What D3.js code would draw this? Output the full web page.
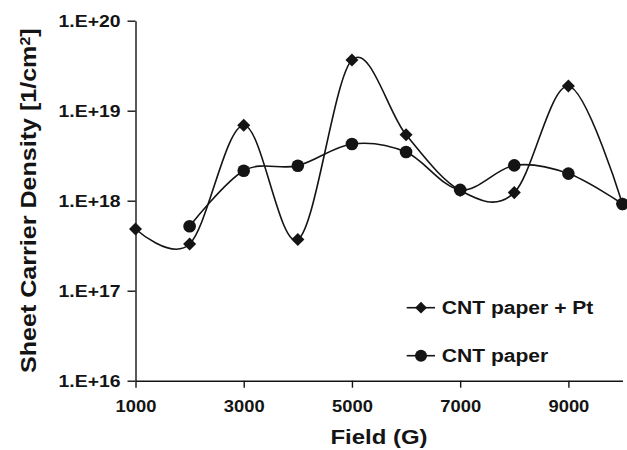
<!DOCTYPE html>
<html lang="en">
<head>
  <meta charset="UTF-8" />
  <title>Sheet Carrier Density vs Field</title>
  <script src="https://d3js.org/d3.v7.min.js"></script>
  <style>
    body { margin: 0; background: #fff; }
    svg { display: block; font-family: "Liberation Sans", Arial, sans-serif; font-weight: bold; }
  </style>
</head>
<body>
  <svg width="627" height="450"></svg>
  <script>
    // values
    const fields = [1000, 2000, 3000, 4000, 5000, 6000, 7000, 8000, 9000, 10000];
    const ptDensity = [4.85e17, 3.3e17, 6.9e18, 3.7e17, 3.66e19, 5.4e18, 1.3e18, 1.23e18, 1.88e19, 9.2e17];
    const paperFields = [2000, 3000, 4000, 5000, 6000, 7000, 8000, 9000, 10000];
    const paperDensity = [5.2e17, 2.15e18, 2.45e18, 4.27e18, 3.47e18, 1.32e18, 2.47e18, 2.0e18, 9.2e17];
    const xTicks = [1000, 3000, 5000, 7000, 9000];
    const yTicks = [1e16, 1e17, 1e18, 1e19, 1e20];
    const seriesNames = ["CNT paper + Pt", "CNT paper"];

    const svg = d3.select("svg"), width = +svg.attr("width"), height = +svg.attr("height");
    const margin = { top: 20.7, right: 4.5, bottom: 69.3, left: 135.5 };
    const ink = "#141414";
    const stretch = 1.14; // the original lettering is wider than Arial

    const x = d3.scaleLinear().domain([1000, 10000]).range([margin.left, width - margin.right]);
    const y = d3.scaleLog().domain([1e16, 1e20]).range([height - margin.bottom, margin.top]);

    // axes
    const xAxis = svg.append("g")
      .attr("transform", `translate(0,${height - margin.bottom})`)
      .call(d3.axisBottom(x).tickValues(xTicks).tickFormat(d3.format("d"))
        .tickSize(7).tickSizeOuter(0).tickPadding(12));
    const yAxis = svg.append("g")
      .attr("transform", `translate(${margin.left},0)`)
      .call(d3.axisLeft(y).tickValues(yTicks)
        .tickFormat(d => `1.E+${Math.round(Math.log10(d))}`)
        .tickSize(8).tickSizeOuter(0).tickPadding(7));

    [xAxis, yAxis].forEach(g => {
      g.select(".domain").attr("stroke", ink).attr("stroke-width", 1.4);
      g.selectAll(".tick line").attr("stroke", ink).attr("stroke-width", 1.4);
      g.selectAll(".tick text")
        .attr("fill", ink)
        .style("font-size", "17px")
        .style("font-family", "inherit")
        .style("font-weight", "bold");
    });
    xAxis.selectAll(".tick text").attr("transform", `scale(${1.08},1)`)
      .attr("x", 0);
    yAxis.selectAll(".tick text").attr("transform", `scale(${stretch},1)`)
      .attr("x", -15 / stretch).attr("dy", "0.36em");

    // axis titles
    svg.append("text")
      .attr("transform", `translate(${(margin.left + width - margin.right) / 2},444) scale(${stretch},1)`)
      .attr("text-anchor", "middle")
      .attr("fill", ink)
      .style("font-size", "21px")
      .text("Field (G)");

    const yTitle = svg.append("text")
      .attr("transform", `translate(36,${(margin.top + height - margin.bottom) / 2}) rotate(-90) scale(${stretch},1)`)
      .attr("text-anchor", "middle")
      .attr("fill", ink)
      .style("font-size", "22px");
    yTitle.append("tspan").text("Sheet Carrier Density [1/cm");
    yTitle.append("tspan").attr("dy", "-0.45em").style("font-size", "14px").text("2");
    yTitle.append("tspan").attr("dy", "0.3em").text("]");

    // smoothed lines, like the spreadsheet's "smoothed line" option
    const line = d3.line().curve(d3.curveCardinal.tension(0));
    const ptPoints = fields.map((f, i) => [x(f), y(ptDensity[i])]);
    const paperPoints = paperFields.map((f, i) => [x(f), y(paperDensity[i])]);

    svg.append("path").attr("d", line(paperPoints))
      .attr("fill", "none").attr("stroke", ink).attr("stroke-width", 1.6);
    svg.append("path").attr("d", line(ptPoints))
      .attr("fill", "none").attr("stroke", ink).attr("stroke-width", 1.6);

    const diamond = d3.symbol().type(d3.symbolSquare).size(85);

    svg.append("g").selectAll("circle")
      .data(paperPoints)
      .join("circle")
      .attr("cx", d => d[0])
      .attr("cy", d => d[1])
      .attr("r", 6.3)
      .attr("fill", ink);

    svg.append("g").selectAll("path")
      .data(ptPoints)
      .join("path")
      .attr("d", diamond)
      .attr("transform", d => `translate(${d[0]},${d[1]}) rotate(45)`)
      .attr("fill", ink);

    // legend
    const legend = svg.append("g");
    const rows = [307.7, 355.7];
    seriesNames.forEach((name, i) => {
      const g = legend.append("g").attr("transform", `translate(0,${rows[i]})`);
      g.append("line").attr("x1", 406.7).attr("x2", 435).attr("stroke", ink).attr("stroke-width", 1.6);
      if (i === 0) {
        g.append("path").attr("d", d3.symbol().type(d3.symbolSquare).size(70))
          .attr("transform", "translate(421,0) rotate(45)").attr("fill", ink);
      } else {
        g.append("circle").attr("cx", 421).attr("r", 6).attr("fill", ink);
      }
      g.append("text")
        .attr("transform", `translate(441.7,6.6) scale(${stretch},1)`)
        .attr("fill", ink)
        .style("font-size", "18.5px")
        .text(name);
    });
  </script>
</body>
</html>
